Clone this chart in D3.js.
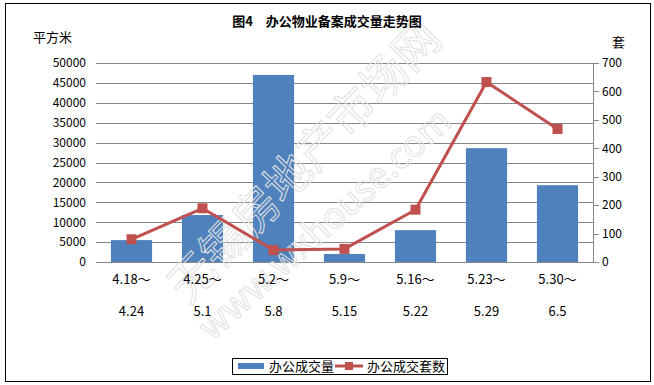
<!DOCTYPE html>
<html>
<head>
<meta charset="utf-8">
<script src="https://cdn.jsdelivr.net/npm/d3@7"></script>
<style>
  body { margin: 0; background: #fff; }
  svg text { font-family: "Noto Sans CJK SC", "Liberation Sans", sans-serif; }
</style>
</head>
<body>
<svg width="654" height="385"></svg>
<script>
var WIDTH = 654;
var HEIGHT = 385;

// data
var catTop = ['4.18～', '4.25～', '5.2～', '5.9～', '5.16～', '5.23～', '5.30～'];
var catBottom = ['4.24', '5.1', '5.8', '5.15', '5.22', '5.29', '6.5'];
var area = [5500, 11800, 47000, 2000, 8000, 28600, 19300];   // 办公成交量 (平方米)
var units = [80, 189, 42, 46, 184, 633, 468];                // 办公成交套数 (套)
var leftTicks = [0, 5000, 10000, 15000, 20000, 25000, 30000, 35000, 40000, 45000, 50000];
var rightTicks = [0, 100, 200, 300, 400, 500, 600, 700];

var BLUE = '#4f81bd';
var RED = '#c0504d';
var GRID = '#878787';

var svg = d3.select('svg');

// outer frame
svg.append('rect')
    .attr('x', 5.5).attr('y', 3.5)
    .attr('width', 645).attr('height', 378)
    .attr('fill', '#fff').attr('stroke', '#000').attr('stroke-width', 1);

var plot = { left: 96, right: 593, top: 63, bottom: 262 };

var x = d3.scaleBand()
    .domain(catTop)
    .range([plot.left, plot.right])
    .paddingInner(0.42)
    .paddingOuter(0.21);

var yL = d3.scaleLinear().domain([0, 50000]).range([plot.bottom, plot.top]);
var yR = d3.scaleLinear().domain([0, 700]).range([plot.bottom, plot.top]);

// gridlines + left labels
var leftAxis = d3.axisLeft(yL)
    .tickValues(leftTicks)
    .tickSize(-(plot.right - plot.left))
    .tickPadding(10)
    .tickFormat(d3.format('d'));

var gL = svg.append('g')
    .attr('transform', 'translate(' + plot.left + ',0)')
    .call(leftAxis);
gL.select('.domain').remove();
gL.selectAll('line').attr('stroke', GRID).attr('shape-rendering', 'crispEdges');
gL.selectAll('text').attr('font-size', 12).attr('fill', '#000');

// right axis
var rightAxis = d3.axisRight(yR)
    .tickValues(rightTicks)
    .tickSize(6)
    .tickSizeOuter(0)
    .tickPadding(3);

var gR = svg.append('g')
    .attr('transform', 'translate(' + plot.right + ',0)')
    .call(rightAxis);
gR.select('.domain').attr('stroke', GRID).attr('shape-rendering', 'crispEdges');
gR.selectAll('line').attr('stroke', GRID).attr('shape-rendering', 'crispEdges');
gR.selectAll('text').attr('font-size', 12).attr('fill', '#000');

// bars
svg.append('g').selectAll('rect')
    .data(area)
    .enter()
    .append('rect')
    .attr('x', function(d, i) { return x(catTop[i]); })
    .attr('y', function(d) { return yL(d); })
    .attr('width', x.bandwidth())
    .attr('height', function(d) { return plot.bottom - yL(d); })
    .attr('fill', BLUE);

// baseline
svg.append('line')
    .attr('x1', plot.left).attr('x2', plot.right)
    .attr('y1', plot.bottom + 0.5).attr('y2', plot.bottom + 0.5)
    .attr('stroke', GRID);

// watermark (faint outlined text)
var wm = svg.append('g').attr('fill', 'none').attr('stroke', '#e2e2e2').attr('stroke-width', 1);
wm.append('text')
    .attr('transform', 'translate(188,305) rotate(-46)')
    .attr('font-size', 46)
    .text('无锡房地产市场网');
wm.append('text')
    .attr('transform', 'translate(212,342) rotate(-42)')
    .attr('font-size', 36)
    .attr('font-family', 'Liberation Sans, sans-serif')
    .text('www.wxhouse.com');

// line series
var line = d3.line()
    .x(function(d, i) { return x(catTop[i]) + x.bandwidth() / 2; })
    .y(function(d) { return yR(d); });

svg.append('path')
    .datum(units)
    .attr('d', line)
    .attr('fill', 'none')
    .attr('stroke', RED)
    .attr('stroke-width', 3)
    .attr('stroke-linejoin', 'round');

svg.append('g').selectAll('rect')
    .data(units)
    .enter()
    .append('rect')
    .attr('x', function(d, i) { return x(catTop[i]) + x.bandwidth() / 2 - 5; })
    .attr('y', function(d) { return yR(d) - 5; })
    .attr('width', 10).attr('height', 10)
    .attr('fill', RED);

// category labels (two lines)
var labels = svg.append('g').attr('font-size', 13).attr('text-anchor', 'middle');
labels.selectAll('.l1')
    .data(catTop)
    .enter()
    .append('text')
    .attr('x', function(d) { return x(d) + x.bandwidth() / 2; })
    .attr('y', 284)
    .text(function(d) { return d; });
labels.selectAll('.l2')
    .data(catBottom)
    .enter()
    .append('text')
    .attr('x', function(d, i) { return x(catTop[i]) + x.bandwidth() / 2; })
    .attr('y', 316)
    .text(function(d) { return d; });

// title and axis units
svg.append('text')
    .attr('x', 327).attr('y', 26)
    .attr('text-anchor', 'middle')
    .attr('font-size', 13).attr('font-weight', 'bold')
    .text('图4　办公物业备案成交量走势图');
svg.append('text').attr('x', 33).attr('y', 42).attr('font-size', 13).text('平方米');
svg.append('text').attr('x', 612).attr('y', 47).attr('font-size', 13).text('套');

// legend
var lg = svg.append('g');
lg.append('rect')
    .attr('x', 232.5).attr('y', 358.5)
    .attr('width', 215).attr('height', 16)
    .attr('fill', '#fff').attr('stroke', '#000');
lg.append('rect')
    .attr('x', 238).attr('y', 363).attr('width', 26).attr('height', 6)
    .attr('fill', BLUE);
lg.append('text').attr('x', 269).attr('y', 371).attr('font-size', 13).text('办公成交量');
lg.append('line')
    .attr('x1', 335).attr('x2', 363).attr('y1', 366).attr('y2', 366)
    .attr('stroke', RED).attr('stroke-width', 3);
lg.append('rect')
    .attr('x', 345).attr('y', 362).attr('width', 8).attr('height', 8)
    .attr('fill', RED);
lg.append('text').attr('x', 367).attr('y', 371).attr('font-size', 13).text('办公成交套数');
</script>
</body>
</html>
